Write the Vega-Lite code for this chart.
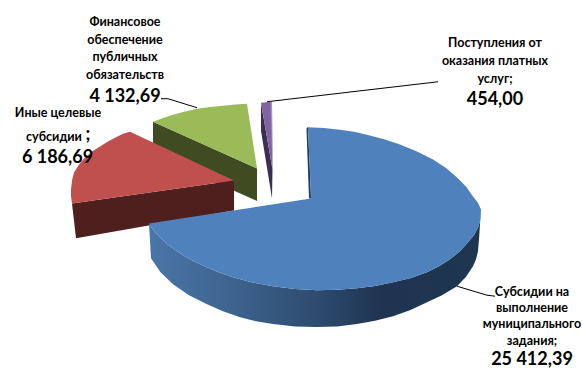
{
"$schema":"https://vega.github.io/schema/vega-lite/v6.json",
"width":582,"height":369,"padding":0,
"autosize":{"type":"fit","contains":"padding"},
"background":"white",
"view":{"stroke":null},
"datasets":{
"outlines":[
{"part":"green face","n":1,"x":153,"y":122},{"part":"green face","n":2,"x":257,"y":169},{"part":"green face","n":3,"x":257,"y":201.5},{"part":"green face","n":4,"x":153,"y":155},
{"part":"green top","n":1,"x":153,"y":122},{"part":"green top","n":1.5,"x":163,"y":118.3},{"part":"green top","n":2,"x":173,"y":115},{"part":"green top","n":2.5,"x":185,"y":111.8},{"part":"green top","n":3,"x":197,"y":109},{"part":"green top","n":3.5,"x":210,"y":107.2},{"part":"green top","n":4,"x":223,"y":106},{"part":"green top","n":4.5,"x":235,"y":104.8},{"part":"green top","n":5,"x":247,"y":104},{"part":"green top","n":6,"x":257,"y":169},
{"part":"purple face","n":1,"x":261,"y":103},{"part":"purple face","n":2,"x":261,"y":131},{"part":"purple face","n":3,"x":272,"y":199},{"part":"purple face","n":4,"x":272.5,"y":170},
{"part":"purple top","n":1,"x":261,"y":103},{"part":"purple top","n":2,"x":272,"y":102},{"part":"purple top","n":3,"x":272.5,"y":170},
{"part":"purple edge","n":1,"x":270.5,"y":102},{"part":"purple edge","n":2,"x":272,"y":102},{"part":"purple edge","n":3,"x":272.5,"y":170},
{"part":"red face","n":1,"x":72,"y":204},{"part":"red face","n":2,"x":234,"y":181},{"part":"red face","n":3,"x":234,"y":211},{"part":"red face","n":4,"x":76,"y":239},
{"part":"red top","n":1,"x":130,"y":132},{"part":"red top","n":2,"x":234,"y":181},{"part":"red top","n":3,"x":72,"y":204},{"part":"red top","n":3.5,"x":71,"y":197},{"part":"red top","n":4,"x":71,"y":190},{"part":"red top","n":4.5,"x":72,"y":181},{"part":"red top","n":5,"x":74,"y":173},{"part":"red top","n":5.5,"x":79,"y":165},{"part":"red top","n":6,"x":85,"y":158},{"part":"red top","n":6.5,"x":92,"y":152},{"part":"red top","n":7,"x":100,"y":147},{"part":"red top","n":7.5,"x":108,"y":142},{"part":"red top","n":8,"x":117,"y":137},{"part":"red top","n":8.5,"x":123,"y":134},
{"part":"blue face","n":1,"x":306.5,"y":129},{"part":"blue face","n":2,"x":309,"y":199},{"part":"blue face","n":3,"x":311,"y":199},{"part":"blue face","n":4,"x":308,"y":127},
{"part":"blue rim","n":1,"x":149,"y":224},{"part":"blue rim","n":1.5,"x":154,"y":231.5},{"part":"blue rim","n":2,"x":160,"y":238},{"part":"blue rim","n":2.5,"x":168,"y":245.5},{"part":"blue rim","n":3,"x":177,"y":252},{"part":"blue rim","n":3.5,"x":188,"y":259},{"part":"blue rim","n":4,"x":200,"y":265},{"part":"blue rim","n":4.5,"x":216,"y":272},{"part":"blue rim","n":5,"x":233,"y":278},{"part":"blue rim","n":5.5,"x":252.5,"y":283.2},{"part":"blue rim","n":6,"x":273,"y":287},{"part":"blue rim","n":6.5,"x":295,"y":289.8},{"part":"blue rim","n":7,"x":317,"y":291},{"part":"blue rim","n":7.5,"x":337,"y":290.6},{"part":"blue rim","n":8,"x":357,"y":289},{"part":"blue rim","n":8.5,"x":375,"y":286.8},{"part":"blue rim","n":9,"x":393,"y":283},{"part":"blue rim","n":9.5,"x":411,"y":278.8},{"part":"blue rim","n":10,"x":427,"y":273},{"part":"blue rim","n":10.5,"x":439,"y":267},{"part":"blue rim","n":11,"x":450,"y":260},{"part":"blue rim","n":11.5,"x":460,"y":252},{"part":"blue rim","n":12,"x":468,"y":243},{"part":"blue rim","n":12.5,"x":474,"y":236},{"part":"blue rim","n":13,"x":478,"y":228},{"part":"blue rim","n":13.5,"x":480.5,"y":220},{"part":"blue rim","n":14,"x":481,"y":210},{"part":"blue rim","n":15,"x":479,"y":240},{"part":"blue rim","n":16,"x":478,"y":252},{"part":"blue rim","n":16.5,"x":476,"y":260},{"part":"blue rim","n":17,"x":473,"y":267},{"part":"blue rim","n":17.5,"x":466,"y":277.5},{"part":"blue rim","n":18,"x":457,"y":287},{"part":"blue rim","n":18.5,"x":442,"y":296},{"part":"blue rim","n":19,"x":427,"y":303},{"part":"blue rim","n":19.5,"x":410.5,"y":310.8},{"part":"blue rim","n":20,"x":393,"y":317},{"part":"blue rim","n":20.5,"x":375,"y":321.6},{"part":"blue rim","n":21,"x":357,"y":325},{"part":"blue rim","n":21.5,"x":337,"y":327.3},{"part":"blue rim","n":22,"x":317,"y":328},{"part":"blue rim","n":22.5,"x":295,"y":327.3},{"part":"blue rim","n":23,"x":273,"y":325},{"part":"blue rim","n":23.5,"x":256,"y":322},{"part":"blue rim","n":24,"x":240,"y":318},{"part":"blue rim","n":24.5,"x":223,"y":312},{"part":"blue rim","n":25,"x":207,"y":305},{"part":"blue rim","n":25.5,"x":189,"y":296},{"part":"blue rim","n":26,"x":173,"y":285},{"part":"blue rim","n":26.5,"x":160.5,"y":273},{"part":"blue rim","n":27,"x":151,"y":259},
{"part":"blue top","n":1,"x":308,"y":127.5},{"part":"blue top","n":1.5,"x":324,"y":128.3},{"part":"blue top","n":2,"x":340,"y":130},{"part":"blue top","n":2.5,"x":354,"y":132.2},{"part":"blue top","n":3,"x":367,"y":135},{"part":"blue top","n":3.5,"x":384,"y":139.6},{"part":"blue top","n":4,"x":400,"y":145},{"part":"blue top","n":4.5,"x":417,"y":152},{"part":"blue top","n":5,"x":433,"y":160},{"part":"blue top","n":5.5,"x":446,"y":168.5},{"part":"blue top","n":6,"x":457,"y":178},{"part":"blue top","n":6.5,"x":466,"y":187},{"part":"blue top","n":7,"x":473,"y":197},{"part":"blue top","n":7.5,"x":477.8,"y":203},{"part":"blue top","n":8,"x":481,"y":210},{"part":"blue top","n":8.5,"x":480.5,"y":220},{"part":"blue top","n":9,"x":478,"y":228},{"part":"blue top","n":9.5,"x":474,"y":236},{"part":"blue top","n":10,"x":468,"y":243},{"part":"blue top","n":10.5,"x":460,"y":252},{"part":"blue top","n":11,"x":450,"y":260},{"part":"blue top","n":11.5,"x":439,"y":267},{"part":"blue top","n":12,"x":427,"y":273},{"part":"blue top","n":12.5,"x":411,"y":278.8},{"part":"blue top","n":13,"x":393,"y":283},{"part":"blue top","n":13.5,"x":375,"y":286.8},{"part":"blue top","n":14,"x":357,"y":289},{"part":"blue top","n":14.5,"x":337,"y":290.6},{"part":"blue top","n":15,"x":317,"y":291},{"part":"blue top","n":15.5,"x":295,"y":289.8},{"part":"blue top","n":16,"x":273,"y":287},{"part":"blue top","n":16.5,"x":252.5,"y":283.2},{"part":"blue top","n":17,"x":233,"y":278},{"part":"blue top","n":17.5,"x":216,"y":272},{"part":"blue top","n":18,"x":200,"y":265},{"part":"blue top","n":18.5,"x":188,"y":259},{"part":"blue top","n":19,"x":177,"y":252},{"part":"blue top","n":19.5,"x":168,"y":245.5},{"part":"blue top","n":20,"x":160,"y":238},{"part":"blue top","n":20.5,"x":154,"y":231.5},{"part":"blue top","n":21,"x":149,"y":224},{"part":"blue top","n":22,"x":311,"y":199}
],
"leaders":[
{"slice":"green","n":1,"x":161,"y":99},{"slice":"green","n":2,"x":168,"y":99},{"slice":"green","n":3,"x":197,"y":108},
{"slice":"purple","n":1,"x":267,"y":102},{"slice":"purple","n":2,"x":438,"y":82},
{"slice":"blue","n":1,"x":457,"y":287},{"slice":"blue","n":2,"x":487,"y":296},{"slice":"blue","n":3,"x":495,"y":297}
],
"labels":[
{"role":"name","text":"Финансовое","x":125,"y":22},
{"role":"name","text":"обеспечение","x":125,"y":40},
{"role":"name","text":"публичных","x":125,"y":57},
{"role":"name","text":"обязательств","x":125,"y":75},
{"role":"value","text":"4 132,69","x":125,"y":97},
{"role":"name","text":"Иные целевые","x":58,"y":113},
{"role":"name","text":"субсидии","x":54,"y":137},
{"role":"value","text":";","x":88,"y":135},
{"role":"value","text":"6 186,69","x":57.5,"y":158},
{"role":"name","text":"Поступления от","x":495,"y":43},
{"role":"name","text":"оказания платных","x":495,"y":61},
{"role":"name","text":"услуг;","x":495,"y":79},
{"role":"value","text":"454,00","x":495,"y":100},
{"role":"name","text":"Субсидии на","x":532,"y":293},
{"role":"name","text":"выполнение","x":532,"y":309},
{"role":"name","text":"муниципального","x":532,"y":325},
{"role":"name","text":"задания;","x":532,"y":342},
{"role":"value","text":"25 412,39","x":532,"y":361}
]
},
"encoding":{
"x":{"field":"x","type":"quantitative","axis":null,"scale":{"domain":[0,582]}},
"y":{"field":"y","type":"quantitative","axis":null,"scale":{"domain":[369,0]}}
},
"layer":[
{"data":{"name":"outlines"},
 "transform":[{"filter":"datum.part !== 'blue rim' && datum.part !== 'blue top'"}],
 "mark":{"type":"line","strokeWidth":0,"clip":false},
 "encoding":{
  "detail":{"field":"part"},
  "order":{"field":"n","type":"quantitative"},
  "fill":{"field":"part","type":"nominal","legend":null,"scale":{
    "domain":["green face","green top","purple face","purple top","purple edge","red face","red top","blue face"],
    "range":["#3f4c22","#9bbb59","#3a2e55","#8064a2","#a592c6","#4f1f1e","#c0504d","#1f3a5f"]}}
 }},
{"data":{"name":"outlines"},
 "transform":[{"filter":"datum.part === 'blue rim'"}],
 "mark":{"type":"line","strokeWidth":0,"fill":{"gradient":"linear","x1":0,"x2":1,"y1":0,"y2":0,"stops":[
   {"offset":0,"color":"#4a76a9"},{"offset":0.25,"color":"#3e638e"},{"offset":0.5,"color":"#2d4c70"},{"offset":0.7,"color":"#1f3450"},{"offset":1,"color":"#1e3650"}]}},
 "encoding":{"order":{"field":"n","type":"quantitative"}}},
{"data":{"name":"outlines"},
 "transform":[{"filter":"datum.part === 'blue top'"}],
 "mark":{"type":"line","strokeWidth":0,"fill":"#4f81bd"},
 "encoding":{"order":{"field":"n","type":"quantitative"}}},
{"data":{"name":"leaders"},
 "mark":{"type":"line","stroke":"#000000","strokeWidth":1},
 "encoding":{"detail":{"field":"slice"},"order":{"field":"n","type":"quantitative"}}},
{"data":{"name":"labels"},
 "mark":{"type":"text","font":"Lato","fontWeight":"bold","align":"center","baseline":"middle","color":"#000000"},
 "encoding":{
  "text":{"field":"text"},
  "size":{"field":"role","type":"nominal","legend":null,"scale":{"domain":["name","value"],"range":[12.5,18]}}
 }}
]
}
